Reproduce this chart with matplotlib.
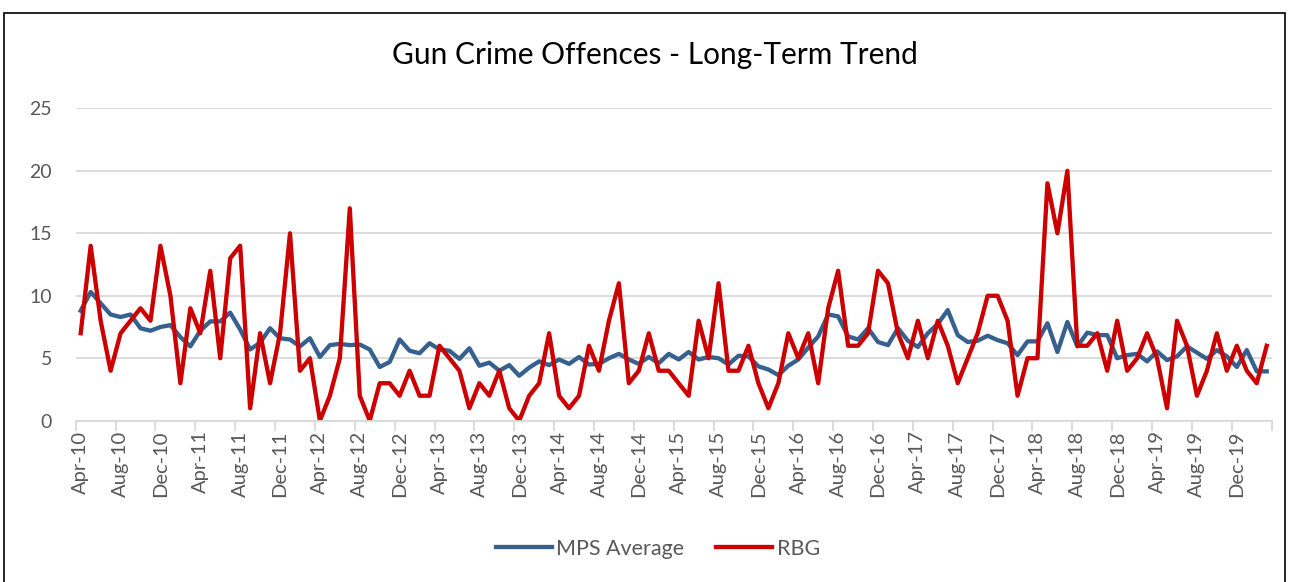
import numpy as np
import pandas as pd
import matplotlib
matplotlib.use("Agg")
import matplotlib.pyplot as plt
from matplotlib.patches import Rectangle

plt.rcParams['font.family'] = ['Lato', 'DejaVu Sans']

months = pd.date_range('2010-04-01', periods=120, freq='MS').strftime('%b-%y')

mps_average = [8.8, 10.3, 9.4, 8.5, 8.3, 8.5, 7.4, 7.2, 7.5, 7.65,
               6.7, 5.95, 7.2, 7.95, 7.95, 8.65, 7.3, 5.7, 6.25, 7.4,
               6.6, 6.5, 5.95, 6.6, 5.1, 6.05, 6.15, 6.05, 6.1, 5.7,
               4.3, 4.7, 6.5, 5.6, 5.4, 6.2, 5.7, 5.6, 4.95, 5.8,
               4.4, 4.65, 4.0, 4.45, 3.6, 4.25, 4.75, 4.45, 4.9, 4.55,
               5.1, 4.5, 4.55, 5.0, 5.35, 4.9, 4.55, 5.1, 4.6, 5.35,
               4.9, 5.5, 4.9, 5.1, 5.0, 4.5, 5.2, 5.15, 4.35, 4.1,
               3.65, 4.4, 4.9, 5.85, 6.75, 8.5, 8.35, 6.75, 6.5, 7.4,
               6.3, 6.05, 7.4, 6.4, 5.9, 7.0, 7.75, 8.85, 6.85, 6.3,
               6.4, 6.8, 6.45, 6.2, 5.25, 6.35, 6.35, 7.8, 5.5, 7.9,
               5.95, 7.05, 6.85, 6.85, 5.0, 5.25, 5.35, 4.75, 5.55, 4.85,
               5.15, 5.95, 5.45, 4.95, 5.65, 5.15, 4.3, 5.65, 3.95, 3.95]

rbg = [7, 14, 8, 4, 7, 8, 9, 8, 14, 10, 3, 9, 7, 12, 5, 13, 14, 1, 7, 3,
       7, 15, 4, 5, 0, 2, 5, 17, 2, 0, 3, 3, 2, 4, 2, 2, 6, 5, 4, 1,
       3, 2, 4, 1, 0, 2, 3, 7, 2, 1, 2, 6, 4, 8, 11, 3, 4, 7, 4, 4,
       3, 2, 8, 5, 11, 4, 4, 6, 3, 1, 3, 7, 5, 7, 3, 9, 12, 6, 6, 7,
       12, 11, 7, 5, 8, 5, 8, 6, 3, 5, 7, 10, 10, 8, 2, 5, 5, 19, 15, 20,
       6, 6, 7, 4, 8, 4, 5, 7, 5, 1, 8, 6, 2, 4, 7, 4, 6, 4, 3, 6]

grey = '#595959'
x = np.arange(len(months))

fig = plt.figure(figsize=(12.9, 5.82), dpi=100)
ax = fig.add_axes([0.0587, 0.2771, 0.9271, 0.5368])

ax.plot(x, mps_average, color='#36618f', lw=3.1, label='MPS Average', solid_joinstyle='round')
ax.plot(x, rbg, color='#cc0000', lw=3.1, label='RBG', solid_joinstyle='round')

ax.set_xlim(-0.5, len(months) - 0.5)
ax.set_ylim(0, 25)
ax.set_yticks(range(0, 26, 5))
ax.yaxis.grid(True, color='#d9d9d9', lw=1.3)
ax.set_axisbelow(True)
ax.tick_params(axis='y', length=0, pad=17, labelsize=14, labelcolor=grey)

# tick marks at category boundaries, labels at category centres
ax.set_xticks(np.arange(-0.5, len(months), 4))
ax.set_xticklabels([])
ax.tick_params(axis='x', which='major', length=7, width=1.3, color='#d9d9d9')
ax.set_xticks(x[::4], minor=True)
ax.set_xticklabels(months[::4], minor=True, rotation=90)
ax.tick_params(axis='x', which='minor', length=0, pad=7, labelsize=14.5, labelcolor=grey)

for s in ['top', 'right', 'left']:
    ax.spines[s].set_visible(False)
ax.spines['bottom'].set_color('#d9d9d9')
ax.spines['bottom'].set_linewidth(1.3)

fig.text(0.508, 0.905, 'Gun Crime Offences - Long-Term Trend', ha='center', va='center',
         fontsize=21.5, color='black')

leg = fig.legend(loc='center', bbox_to_anchor=(0.51, 0.057), ncol=2, frameon=False,
                 fontsize=15.5, handlelength=2.6, columnspacing=1.5, handletextpad=0.2)
for t in leg.get_texts():
    t.set_color(grey)

fig.patches.append(Rectangle((4 / 1290, -0.01), 1281 / 1290, 1 - 13 / 582 + 0.01,
                             transform=fig.transFigure, fill=False, edgecolor='black', lw=1.2))

fig.savefig('out.png', dpi=100)
